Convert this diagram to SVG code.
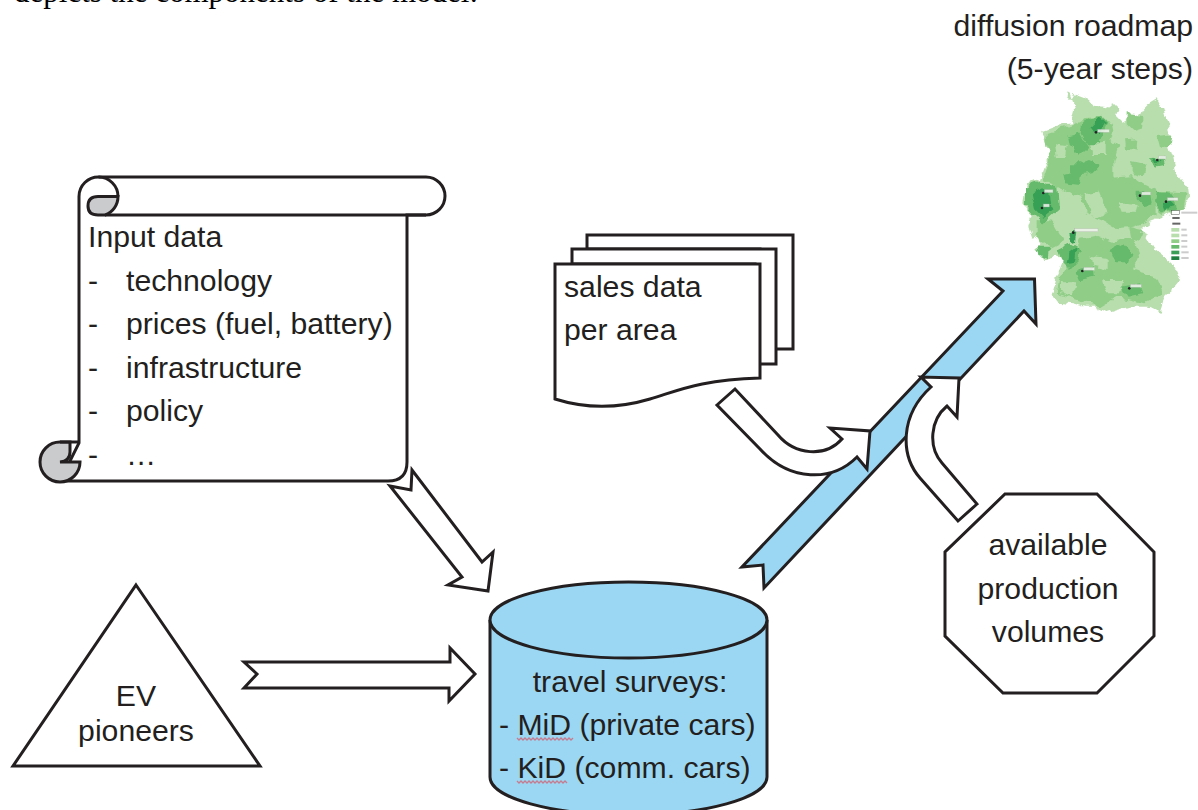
<svg xmlns="http://www.w3.org/2000/svg" width="1198" height="810" viewBox="0 0 1198 810">
<style>
text{font-family:"Liberation Sans",Arial,sans-serif;font-size:30.2px;fill:#231f20}
.c{text-anchor:middle}
.s{fill:#fff;stroke:#231f20;stroke-width:3;stroke-linejoin:miter}
.b{fill:#9bd7f2;stroke:#231f20;stroke-width:3}
.g{fill:#c9cbcd;stroke:#231f20;stroke-width:3}
.l{fill:none;stroke:#231f20;stroke-width:3}
.w{fill:none;stroke:#c77b8f;stroke-width:1.3}
.m1{fill:#b9deae}.m2{fill:#90ce88}.m3{fill:#66ba6c}.m4{fill:#36a055}
.lab{fill:#f2f5f0;stroke:#aaa;stroke-width:1;opacity:.85}
.lg{fill:#ccc}
</style>
<defs><filter id="soft" x="-5%" y="-5%" width="110%" height="110%" color-interpolation-filters="sRGB"><feTurbulence type="fractalNoise" baseFrequency=".035" numOctaves="2" seed="4"/><feDisplacementMap in="SourceGraphic" scale="26" xChannelSelector="R" yChannelSelector="G"/><feGaussianBlur stdDeviation="1.5"/></filter></defs>
<text x="14" y="1.500" style="font-family:'Liberation Serif','Times New Roman',serif;font-size:31px;fill:#000">depicts the components of the model:</text>

<g id="map-title"><text x="1193" y="36" text-anchor="end">diffusion roadmap</text><text x="1193" y="79" text-anchor="end">(5-year steps)</text></g>

<g id="map" transform="translate(1000,80) scale(.3333)">
<g filter="url(#soft)">
<path class="m1" d="M205,30L200,50L215,65L222,42L245,50L270,60L285,80L320,85L340,70L355,85L345,105L365,125L395,105L425,90L445,70L470,55L480,75L490,85L500,120L510,150L505,190L520,230L530,280L550,310L565,330L568,355L550,385L490,410L450,425L425,445L440,470L465,510L490,530L520,555L540,600L520,625L500,640L490,665L480,695L450,680L420,680L385,680L350,690L320,700L285,680L250,680L215,670L170,665L155,645L170,590L190,540L165,530L130,540L110,510L100,490L85,440L95,410L70,370L80,310L120,300L135,260L150,230L130,150L170,135L215,130L225,90Z"/>
<path class="m2" d="M140,160L215,135L250,115L290,110L335,125L340,150L330,180L355,200L340,250L340,290L395,285L430,310L470,330L470,400L430,430L400,440L350,445L310,420L260,400L240,350L200,335L175,320L130,300L150,240L140,190Z"/>
<path class="m1" d="M165,190L200,195L195,230L170,235ZM250,340L295,335L320,400L280,410ZM355,370L410,375L405,395L365,395ZM270,190L320,185L320,225L280,225Z"/>
<path class="m2" d="M380,100L430,105L430,140L400,150L380,130ZM470,165L515,160L510,195L480,205ZM375,178L412,175L410,212L378,205ZM395,240L440,250L430,290L395,280ZM470,335L560,340L550,385L480,405ZM290,470L340,490L400,470L420,520L400,570L470,590L490,640L430,670L350,650L300,680L230,660L170,640L180,590L200,560L220,520L240,480ZM110,420L160,425L190,480L150,500L110,470ZM385,440L430,450L420,480L390,470Z"/>
<path class="m1" d="M275,525L320,530L320,570L280,560ZM180,610L230,610L220,650L180,640ZM420,530L470,540L480,580L430,570ZM310,600L370,600L360,640L320,640Z"/>
<path class="m3" d="M205,170L240,160L265,200L240,225L210,195ZM210,250L245,250L270,240L305,255L280,280L245,285L240,315L195,310L190,285L210,280ZM335,510L370,490L395,520L385,550L350,550ZM470,335L525,345L530,385L490,400L465,370ZM410,335L450,335L455,370L430,375L410,355ZM450,235L490,230L495,255L465,260ZM230,575L280,560L285,590L240,600ZM360,620L420,610L430,640L380,650ZM75,320L120,305L175,320L180,385L130,430L95,400L75,370ZM110,500L150,500L145,535L115,525ZM170,510L210,490L245,510L240,540L210,570L180,540ZM250,120L310,110L320,130L295,190L260,190L245,160Z"/>
<path class="m4" d="M265,150L300,115L315,125L295,160ZM95,340L130,325L150,345L155,390L130,410L105,385ZM490,365L525,365L500,395ZM205,460L230,445L225,490L210,480ZM205,520L230,500L225,545L200,550ZM460,235L485,240L470,255Z"/>
<path fill="#fff" d="M95,480L118,472L125,495L103,503Z"/>
</g>
<g fill="#222"><circle cx="288" cy="157" r="4"/><circle cx="472" cy="240" r="4"/><circle cx="420" cy="347" r="4"/><circle cx="498" cy="365" r="4"/><circle cx="130" cy="339" r="4"/><circle cx="126" cy="384" r="4"/><circle cx="220" cy="458" r="4"/><circle cx="247" cy="573" r="4"/><circle cx="388" cy="625" r="4"/></g>
<g class="lab"><rect x="293" y="148" width="35" height="9"/><rect x="476" y="228" width="22" height="9"/><rect x="425" y="336" width="27" height="9"/><rect x="502" y="353" width="32" height="9"/><rect x="133" y="329" width="26" height="9"/><rect x="130" y="372" width="18" height="9"/><rect x="224" y="446" width="70" height="9"/><rect x="251" y="562" width="33" height="9"/><rect x="391" y="613" width="33" height="9"/></g>
<rect x="515" y="392" width="24" height="12" fill="#fff" stroke="#555" stroke-width="1.500"/>
<rect x="517" y="411" width="22" height="6" fill="#666"/><rect x="517" y="428" width="24" height="6" fill="#666"/>
<rect x="514" y="444" width="24" height="11" class="m1"/><rect x="514" y="461" width="24" height="11" class="m1"/><rect x="514" y="478" width="24" height="11" class="m2"/><rect x="514" y="495" width="24" height="11" class="m3"/><rect x="514" y="512" width="24" height="11" fill="#3c9f58"/><rect x="514" y="529" width="24" height="11" fill="#1f8040"/>
<g class="lg"><rect x="544" y="446" width="16" height="6"/><rect x="544" y="463" width="18" height="6"/><rect x="544" y="480" width="18" height="6"/><rect x="544" y="497" width="18" height="6"/><rect x="544" y="514" width="22" height="6"/><rect x="544" y="531" width="22" height="6"/><rect x="544" y="395" width="48" height="6"/></g>
</g>

<g id="input-data">
<path class="s" d="M99,177H426A19,19 0 0 1 426,215H407V462Q407,481 388,481H60L79,443V196.500A19.500,19.500 0 0 1 99,177Z"/>
<path class="l" d="M105,215H426"/>
<path class="g" d="M118,196.500H98Q88,196.500 88,206Q88,215 98,215H105A19.500,19.500 0 0 0 118,196.500Z"/>
<path class="l" d="M98.500,177A19.500,19.500 0 0 1 118,196.500"/>
<path class="g" d="M60,442H70V452Q70,461 60,462H80A20,20 0 1 1 60,442Z"/>
<path class="l" d="M60,442H79"/>
<text x="88" y="247">Input data</text>
<text x="88" y="291">-</text><text x="126" y="291">technology</text>
<text x="88" y="334">-</text><text x="126" y="334">prices (fuel, battery)</text>
<text x="88" y="378">-</text><text x="126" y="378">infrastructure</text>
<text x="88" y="421">-</text><text x="126" y="421">policy</text>
<text x="88" y="465">-</text><text x="126" y="465">…</text>
</g>

<g id="ev-pioneers">
<polygon class="s" points="136,585 260,766 13,766"/>
<text class="c" x="136" y="706">EV</text><text class="c" x="136" y="741">pioneers</text>
</g>

<g id="sales-data">
<path class="s" d="M587,235H793V349H760V249H587Z"/>
<path class="s" d="M572,249H776V364H755V264H572Z"/>
<path class="s" d="M555,264H760V378C700,380 680,390 650,399C620,408 590,410 555,399Z"/>
<text x="564" y="297">sales data</text><text x="564" y="340">per area</text>
</g>

<g id="production">
<polygon class="s" points="1005,494 1097,494 1154,552 1154,636 1097,693 1003,693 945,636 945,552"/>
<text class="c" x="1048" y="555">available</text><text class="c" x="1048" y="599">production</text><text class="c" x="1048" y="642">volumes</text>
</g>

<g id="connectors">
<polygon class="s" points="390,486 411,490 412,470 482,562 493,552 488,591 448,585 462,577"/>
<polygon class="s" points="244,662 450,662 450,648 475,674 449,701 449,688 244,688 257,674"/>
<polygon class="b" points="742,567 763,565 764,588 1024,311 1036,324 1034.500,279 988,279 1003,291"/>
<path class="s" d="M717,405L735,389L778,435C795,455 825,458 842,439L830,428L870,431L867,469L857,457C832,482 790,482 760,449Z"/>
<path class="s" d="M977,504L958,521L920,478C900,455 900,415 931,387L921,377L959,378L957,417L947,406C930,420 928,447 942,463Z"/>
</g>

<g id="travel-surveys">
<path class="b" d="M490,620V777A138.500,38 0 0 0 767,777V620"/>
<ellipse class="b" cx="628.500" cy="620" rx="138.500" ry="38"/>
<text class="c" x="630" y="692">travel surveys:</text>
<text x="499" y="735">- MiD (private cars)</text>
<text x="499" y="778">- KiD (comm. cars)</text>
<path class="w" d="M517,738l2,2l2,-2l2,2l2,-2l2,2l2,-2l2,2l2,-2l2,2l2,-2l2,2l2,-2l2,2l2,-2l2,2l2,-2l2,2l2,-2l2,2l2,-2l2,2l2,-2l2,2l2,-2l2,2l2,-2l2,2l2,-2"/>
<path class="w" d="M517,781l2,2l2,-2l2,2l2,-2l2,2l2,-2l2,2l2,-2l2,2l2,-2l2,2l2,-2l2,2l2,-2l2,2l2,-2l2,2l2,-2l2,2l2,-2l2,2l2,-2l2,2l2,-2l2,2"/>
</g>
</svg>
